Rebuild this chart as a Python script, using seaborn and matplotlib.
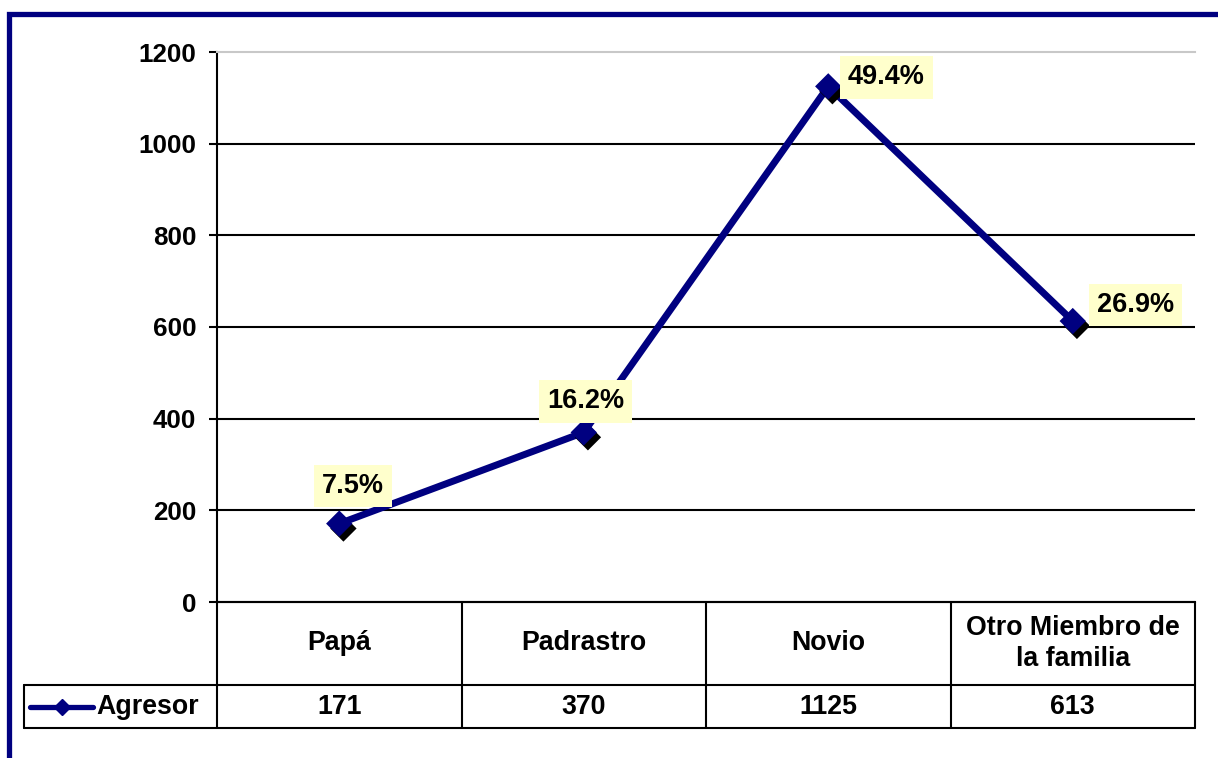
import numpy as np
import matplotlib
matplotlib.use("Agg")
import matplotlib.pyplot as plt
import matplotlib.patheffects as pe
from matplotlib.patches import Rectangle
import seaborn as sns

# data
categories = ["Papá", "Padrastro", "Novio", "Otro Miembro de\nla familia"]
agresor = [171, 370, 1125, 613]
pct_labels = ["7.5%", "16.2%", "49.4%", "26.9%"]
series_name = "Agresor"
yticks = [0, 200, 400, 600, 800, 1000, 1200]

# label offsets in pixels (the labels were moved by hand in the original)
label_offsets = [(14, 38), (2, 31), (58, 9), (63, 16)]

navy = "#000080"

sns.set_style("white")
plt.rcParams['font.family'] = ['Liberation Sans', 'DejaVu Sans']
plt.rcParams['font.weight'] = 'bold'
plt.rcParams['text.color'] = 'black'
plt.rcParams['ytick.color'] = 'black'
plt.rcParams['xtick.color'] = 'black'
plt.rcParams['axes.labelcolor'] = 'black'

W, H = 1218, 758
fig = plt.figure(figsize=(W / 100, H / 100), dpi=100)

# outer navy frame (right and bottom edges fall outside the picture)
fig.patches.append(Rectangle((8.5 / W, -0.1), 1.2, 1.1 - 14.5 / H,
                             transform=fig.transFigure, fill=False,
                             edgecolor=navy, linewidth=3.8, zorder=0))

ax = fig.add_axes([217 / W, 1 - 602 / H, 978 / W, 550 / H])
pos = np.arange(len(categories))

sns.lineplot(x=pos, y=agresor, ax=ax, color=navy, linewidth=5, zorder=3)
sns.scatterplot(x=pos, y=agresor, ax=ax, marker="D", s=180, color=navy,
                edgecolor=navy, linewidth=0, zorder=4,
                path_effects=[pe.SimplePatchShadow(offset=(3, -3.5), shadow_rgbFace="black", alpha=1.0),
                              pe.Normal()])

for i, (v, lab) in enumerate(zip(agresor, pct_labels)):
    dx, dy = label_offsets[i]
    ax.annotate(lab, xy=(i, v), xytext=(dx, dy), textcoords="offset pixels",
                ha="center", va="center", fontsize=19.5, fontweight="bold",
                color="black",
                bbox=dict(boxstyle="square,pad=0.3", fc="#FFFFCC", ec="none"),
                zorder=5)

ax.set_xlim(-0.5, len(categories) - 0.5)
ax.set_ylim(0, 1200)
ax.set_yticks(yticks)
ax.set_yticklabels([str(t) for t in yticks], fontsize=18.7, fontweight="bold")
ax.set_xticks([])
ax.tick_params(axis="y", direction="out", length=6, width=1.5, colors="black", pad=9, left=True)
ax.yaxis.grid(True, color="black", linewidth=1.5)
for line, t in zip(ax.yaxis.get_gridlines(), yticks):
    if t in (0, 1200):
        line.set_visible(False)
ax.set_axisbelow(True)
for side in ["left", "bottom"]:
    ax.spines[side].set_color("black")
    ax.spines[side].set_linewidth(1.5)
ax.spines["top"].set_color("#C8C8C8")
ax.spines["top"].set_linewidth(1.5)
ax.spines["right"].set_visible(False)
ax.set_xlabel("")
ax.set_ylabel("")

# data table under the chart
tax = fig.add_axes([217 / W, 1 - 728 / H, 978 / W, 126 / H])
tax.set_xlim(-0.5, len(categories) - 0.5)
tax.set_ylim(0, 1)
tax.axis("off")
row_split = 43 / 126
left_cell = (24 - 217) / 978
lk = dict(color="black", linewidth=1.5, clip_on=False)
tax.plot([0, 1], [1, 1], transform=tax.transAxes, **lk)
tax.plot([left_cell, 1], [row_split, row_split], transform=tax.transAxes, **lk)
tax.plot([left_cell, 1], [0, 0], transform=tax.transAxes, **lk)
tax.plot([left_cell, left_cell], [0, row_split], transform=tax.transAxes, **lk)
for b in np.arange(len(categories) + 1) - 0.5:
    tax.plot([b, b], [0, 1], **lk)

for i, (cat, v) in enumerate(zip(categories, agresor)):
    tax.text(i, (row_split + 1) / 2, cat, ha="center", va="center",
             fontsize=19.3, fontweight="bold", linespacing=1.25)
    tax.text(i, row_split / 2, str(v), ha="center", va="center",
             fontsize=19.3, fontweight="bold")

# legend key inside the table
x0, x1 = (30 - 217) / 978, (93 - 217) / 978
tax.plot([x0, x1], [row_split / 2, row_split / 2], transform=tax.transAxes,
         color=navy, linewidth=3.8, clip_on=False)
tax.plot([(x0 + x1) / 2], [row_split / 2], transform=tax.transAxes, marker="D",
         markersize=8, color=navy, clip_on=False)
tax.text((96 - 217) / 978, row_split / 2, series_name, transform=tax.transAxes,
         ha="left", va="center", fontsize=19.3, fontweight="bold")

fig.savefig("out.png", dpi=100)
